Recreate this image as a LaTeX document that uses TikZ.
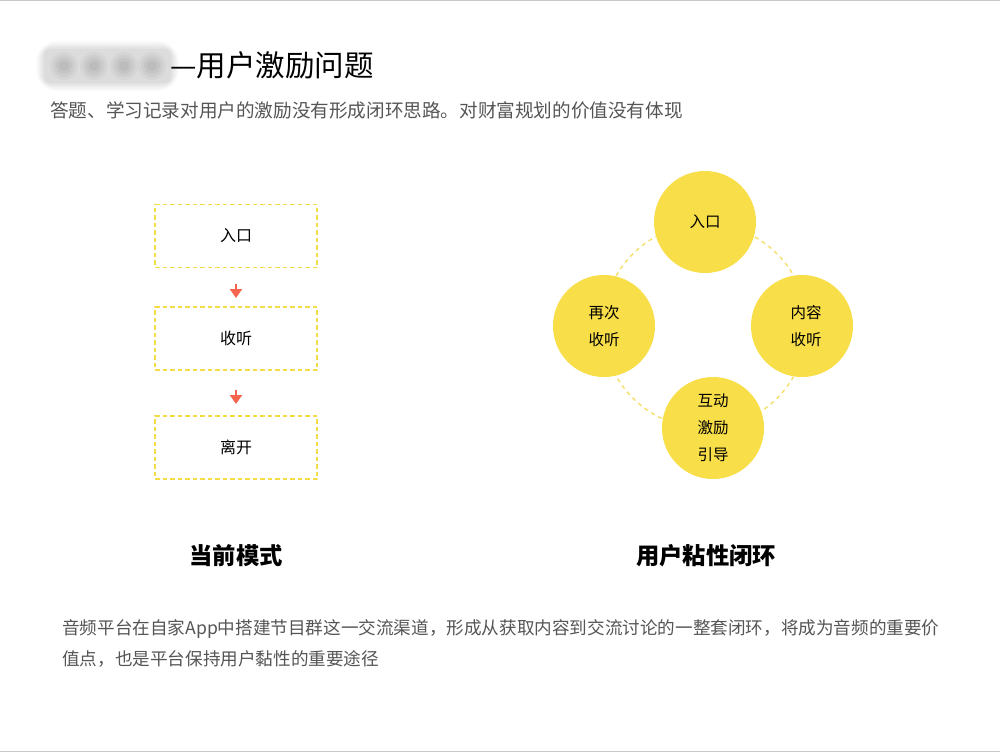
\documentclass[tikz,border=0pt]{standalone}
\usepackage{fontspec}
\setmainfont{Noto Sans CJK SC}
\usetikzlibrary{arrows.meta}
\definecolor{circfill}{HTML}{F8DE48}
\definecolor{dashy}{HTML}{F3DC45}
\definecolor{ringy}{HTML}{F4DF6A}
\definecolor{arrowred}{HTML}{F3654E}
\definecolor{bodygrey}{HTML}{555555}
\definecolor{edgegrey}{HTML}{C8C8C8}
\tikzset{
  flowbox/.style={draw=dashy, line width=1.7pt, dash pattern=on 4.5pt off 3pt, minimum width=162pt, minimum height=63pt, inner sep=0pt, font=\fontsize{16}{19}\selectfont},
  blob/.style={circle, fill=circfill, minimum size=102pt, inner sep=0pt, align=center, font=\fontsize{15.5}{27}\selectfont},
  flowarrow/.style={draw=arrowred, line width=2.6pt, -{Triangle[length=9pt,width=12pt]}},
  caption/.style={font=\fontsize{23.3}{26}\selectfont\bfseries},
  bodytext/.style={text=bodygrey, anchor=west, inner sep=0pt, font=\fontsize{17.6}{20}\selectfont},
}
\begin{document}
\begin{tikzpicture}[x=1pt,y=-1pt]
\useasboundingbox (0,0) rectangle (1000,752);
\fill[white] (0,0) rectangle (1000,752);
\draw[edgegrey, line width=1.2pt] (0,0.6) -- (1000,0.6);
\draw[edgegrey, line width=1.2pt] (0,751.4) -- (1000,751.4);
% blurred label
\foreach \r/\o in {22/0.04,18/0.05,14/0.06,10/0.07,6/0.08} {
  \fill[gray, opacity=\o, rounded corners=\r pt] (47-\r/2,52-\r/2) rectangle (168+\r/2,80+\r/2);
}
\foreach \cx in {64,94,124,152} {
  \foreach \r/\o in {14/0.07,11/0.09,8/0.1,5/0.12} {\fill[gray, opacity=\o] (\cx,66) circle (\r pt);}
}
\node[anchor=west, inner sep=0pt, font=\fontsize{29.5}{32}\selectfont] (title) at (170,65) {—用户激励问题};
\node[anchor=west, inner sep=0pt, text=bodygrey, font=\fontsize{18.6}{21}\selectfont] (sub) at (50,110) {答题、学习记录对用户的激励没有形成闭环思路。对财富规划的价值没有体现};
% left flow
\node[flowbox] (b1) at (236,236) {入口};
\node[flowbox] (b2) at (236,338.5) {收听};
\node[flowbox] (b3) at (236,447.5) {离开};
\coordinate (a1s) at (236,284);
\coordinate (a1e) at (236,298);
\coordinate (a2s) at (236,390);
\coordinate (a2e) at (236,404);
\draw[flowarrow] (a1s) -- (a1e);
\draw[flowarrow] (a2s) -- (a2e);
% right loop
\coordinate (ringc) at (705,326);
\draw[ringy, line width=1.4pt, dash pattern=on 4pt off 4pt] (ringc) circle (102pt);
\node[blob] (top) at (705,222) {入口};
\node[blob] (left) at (604,326) {再次\\收听};
\node[blob] (right) at (802,326) {\hspace*{8pt}内容\\\hspace*{8pt}收听};
\node[blob] (bottom) at (713,428) {互动\\激励\\引导};
% captions
\node[caption] (c1) at (236,556) {当前模式};
\node[caption] (c2) at (706,556) {用户粘性闭环};
% bottom text
\node[bodytext] (p1) at (62,629) {音频平台在自家App中搭建节目群这一交流渠道，形成从获取内容到交流讨论的一整套闭环，将成为音频的重要价};
\node[bodytext] (p2) at (62,659) {值点，也是平台保持用户黏性的重要途径};
\end{tikzpicture}
\end{document}
